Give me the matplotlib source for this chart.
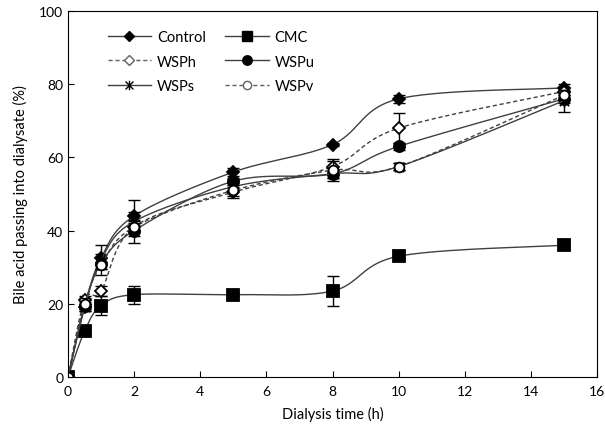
import numpy as np
import matplotlib.pyplot as plt
from matplotlib.path import Path

plt.rcParams['font.family'] = ['Lato', 'DejaVu Sans']

time = [0, 0.5, 1, 2, 5, 8, 10, 15]

control = [0, 19, 32.5, 44, 56, 63.5, 76, 79]
cmc = [0, 12.5, 19.5, 22.5, 22.5, 23.5, 33, 36]
wsph = [0, 21, 23.5, 41, 50.5, 57.5, 68, 78]
wspu = [0, 19.5, 31, 40, 53.5, 55.5, 63, 76]
wsps = [0, 19, 32, 42.5, 52, 55.5, 57.5, 75.5]
wspv = [0, 20, 30.5, 41, 51, 56.5, 57.5, 77]

err_control = [0, 1, 1, 1, 1, 0.5, 1, 1]
err_cmc = [0, 0.5, 2.5, 2.5, 0.5, 4, 0.5, 1]
err_wsph = [0, 1, 1.5, 1.5, 1.5, 1.5, 4, 1]
err_wspu = [0, 1, 1.5, 1.5, 1, 1, 1, 1]
err_wsps = [0, 1, 4, 6, 1, 1, 1, 3]
err_wspv = [0, 1.5, 1, 1, 1.5, 3, 1, 1]

# asterisk marker (x with a vertical bar), like excel
asterisk = Path([(-1, -1), (1, 1), (-1, 1), (1, -1), (0, -1.2), (0, 1.2)],
                [Path.MOVETO, Path.LINETO, Path.MOVETO, Path.LINETO, Path.MOVETO, Path.LINETO])


def smooth(x, y, n=30):
    # excel-like smoothed line (catmull-rom bezier)
    x = np.asarray(x, float)
    y = np.asarray(y, float)
    xs, ys = [], []
    t = np.linspace(0, 1, n)
    for i in range(len(x) - 1):
        p0 = np.array([x[max(i - 1, 0)], y[max(i - 1, 0)]])
        p1 = np.array([x[i], y[i]])
        p2 = np.array([x[i + 1], y[i + 1]])
        p3 = np.array([x[min(i + 2, len(x) - 1)], y[min(i + 2, len(x) - 1)]])
        c1 = p1 + (p2 - p0) / 6
        c2 = p2 - (p3 - p1) / 6
        b = (((1 - t) ** 3)[:, None] * p1 + (3 * (1 - t) ** 2 * t)[:, None] * c1
             + (3 * (1 - t) * t ** 2)[:, None] * c2 + (t ** 3)[:, None] * p2)
        xs.extend(b[:, 0])
        ys.extend(b[:, 1])
    return xs, ys


fig = plt.figure(figsize=(6.05, 4.35), dpi=100)
ax = fig.add_axes([0.1124, 0.131, 0.8744, 0.8414])

series = [
    ('Control', control, err_control, 'D', 'k', '-', 6),
    ('CMC', cmc, err_cmc, 's', 'k', '-', 8),
    ('WSPh', wsph, err_wsph, 'D', 'w', '--', 6),
    ('WSPu', wspu, err_wspu, 'o', 'k', '-', 8),
    ('WSPs', wsps, err_wsps, asterisk, 'k', '-', 8),
    ('WSPv', wspv, err_wspv, 'o', 'w', '--', 7),
]

line_col = '#404040'
handles = {}
for name, vals, err, mk, fc, ls, ms in series:
    sx, sy = smooth(time, vals)
    dashes = (3, 2) if ls == '--' else (None, None)
    ax.plot(sx, sy, color=line_col, ls=ls, lw=1.0, dashes=dashes)
    ax.errorbar(time, vals, yerr=err, fmt='none', ecolor='k', elinewidth=1, capsize=4, capthick=1)
    ax.plot(time, vals, ls='none', marker=mk, ms=ms, mfc=fc, mec='k', mew=1.3)
    edge = 'k' if fc == 'k' else '#606060'
    h, = ax.plot([], [], color=line_col if ls == '-' else '#606060', ls=ls, lw=1.0,
                 dashes=dashes, marker=mk, ms=ms * 0.85, mfc=fc, mec=edge, mew=1.0)
    handles[name] = h

# excel fills the legend row by row
order = ['Control', 'WSPh', 'WSPs', 'CMC', 'WSPu', 'WSPv']

ax.set_xlim(0, 16)
ax.set_ylim(0, 100)
ax.set_xticks(range(0, 17, 2))
ax.set_yticks(range(0, 101, 20))
ax.tick_params(direction='in', length=4, labelsize=10, width=0.8)
ax.tick_params(axis='x', pad=6)
for s in ax.spines.values():
    s.set_linewidth(0.8)
ax.set_xlabel('Dialysis time (h)', fontsize=10.5, labelpad=6)
ax.set_ylabel('Bile acid passing into dialysate (%)', fontsize=10.5, labelpad=8)

ax.legend([handles[k] for k in order], order, ncol=2, frameon=False, loc='upper left',
          bbox_to_anchor=(0.05, 0.985), fontsize=10.5, handlelength=3,
          handletextpad=0.4, columnspacing=1.3, labelspacing=0.75)

fig.savefig('out.png', dpi=100)
